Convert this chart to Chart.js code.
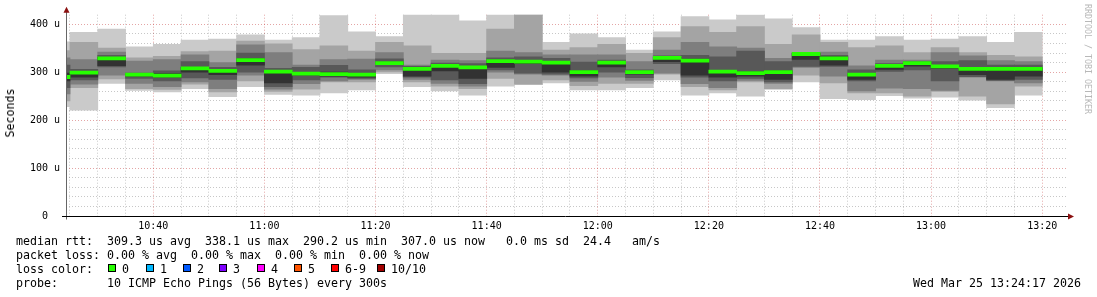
<!DOCTYPE html>
<html>
<head>
<meta charset="utf-8">
<script src="https://cdn.jsdelivr.net/npm/chart.js@4.4.1/dist/chart.umd.min.js"></script>
<style>
  html, body { margin: 0; padding: 0; background: #fff; }
  #wrap { position: relative; width: 1097px; height: 297px; overflow: hidden;
          font-family: "DejaVu Sans Mono", monospace; color: #000; }
  #graph { position: absolute; left: 0; top: 0; }
  .txt { position: absolute; font-size: 11.63px; line-height: 14px; white-space: pre; }
  .box { position: absolute; width: 8px; height: 8px; box-sizing: border-box; border: 1px solid #000; }
  #ytitle { position: absolute; left: 10px; top: 113px; font-size: 11.63px; white-space: pre;
            transform: translate(-50%, -50%) rotate(-90deg); }
  #mark { position: absolute; left: 1083px; top: 4px; font-size: 8.3px; color: #b8b8b8;
          writing-mode: vertical-rl; white-space: pre; }
</style>
</head>
<body>
<div id="wrap">
  <canvas id="graph" width="1097" height="297"></canvas>
  <div id="ytitle">Seconds</div>
  <div id="mark">RRDTOOL / TOBI OETIKER</div>
  <div class="txt" style="left:16px; top:234px;">median rtt:  309.3 us avg  338.1 us max  290.2 us min  307.0 us now   0.0 ms sd  24.4   am/s
packet loss: 0.00 % avg  0.00 % max  0.00 % min  0.00 % now
loss color:
probe:       10 ICMP Echo Pings (56 Bytes) every 300s</div>
  <div class="txt" style="right:16px; top:276px;">Wed Mar 25 13:24:17 2026</div>
  <div id="losslegend"></div>
</div>
<script>
// step start times (minutes after midnight), one step = 5 min
const stepStart = [];
for (let k = 0; k < 36; k++) stepStart.push(620 + 5 * k);

// sorted ping times per step, microseconds (ping1 = fastest ... ping10 = slowest)
const ping1  = [228,221,277,262,259,266,249,270,254,252,257,263,297,270,261,252,271,274,278,263,263,268,284,252,257,250,264,280,245,243,251,246,248,242,226,252];
const ping2  = [240,268,286,266,264,275,259,282,260,265,280,280,301,280,271,266,287,275,284,272,277,277,296,270,263,280,266,294,278,257,257,250,260,250,234,271];
const ping3  = [255,275,294,277,270,280,266,294,265,276,282,285,305,285,277,271,300,296,294,281,290,283,298,276,268,283,277,310,292,261,267,266,262,290,282,278];
const ping4  = [268,284,311,287,282,288,285,300,270,284,290,287,311,290,284,276,305,298,296,288,300,289,318,290,282,287,280,312,312,282,302,305,282,291,283,285];
const ping5  = [282,290,314,292,290,300,295,315,278,294,292,290,316,292,303,287,310,318,300,292,311,296,322,294,290,292,285,327,315,285,306,313,308,295,285,292];
const ping6  = [298,300,331,296,297,310,304,328,302,299,300,297,321,308,315,312,325,324,322,303,322,302,331,327,304,301,303,339,332,297,315,320,314,309,309,309];
const ping7  = [315,306,335,298,303,322,310,340,308,310,314,305,328,312,319,318,330,332,329,321,325,305,334,335,332,344,322,340,335,305,318,322,322,324,315,315];
const ping8  = [330,326,342,323,326,336,320,357,341,315,326,327,341,315,325,324,344,341,336,336,336,322,346,362,353,350,329,341,342,313,325,325,341,334,324,322];
const ping9  = [345,362,350,330,333,343,344,365,359,347,355,344,362,355,339,339,390,422,346,351,358,339,372,395,383,395,358,378,362,351,355,341,351,341,335,332];
const ping10 = [363,383,390,353,358,367,369,378,367,372,418,384,374,422,422,407,422,425,362,380,372,346,384,416,409,420,411,393,367,367,374,367,369,374,362,383];
const median = [290,299,329,295,293,308,303,325,301,297,296,295,319,307,313,310,323,322,320,300,320,300,330,324,301,298,300,338,329,295,313,319,312,307,307,307];

const pings = [ping1, ping2, ping3, ping4, ping5, ping6, ping7, ping8, ping9, ping10];

// y axis ticks (us) and time window
const yTicks = [0, 20, 40, 60, 80, 100, 120, 140, 160, 180, 200, 220, 240, 260, 280, 300, 320, 340, 360, 380, 400];
const xTicks = [];
for (let t = 625; t <= 800; t += 5) xTicks.push(t);
const windowEnd = 13 * 60 + 24 + 17 / 60;
const windowStart = windowEnd - 180;

const lossColors = [
  ['0', '#26ff00'], ['1', '#00b8ff'], ['2', '#0059ff'], ['3', '#7e00ff'],
  ['4', '#ff00fe'], ['5', '#ff5500'], ['6-9', '#ff0000'], ['10/10', '#a10000']
];

// smoke: band between ping i and ping (11-i), lighter outside, darker inside
const half = 5;
const datasets = [];
for (let i = 1; i <= half; i++) {
  const g = Math.floor(190 / half * (half - i)) + 50;
  const lo = pings[i - 1], hi = pings[10 - i];
  datasets.push({
    label: 'smoke' + i,
    data: stepStart.map((t, k) => ({ x: t + 2.5, y: [lo[k], hi[k]] })),
    backgroundColor: `rgb(${g},${g},${g})`,
    order: 10 - i
  });
}
// median line, ~3px thick, coloured by loss (all 0 %)
const medHalf = 3.1;
datasets.push({
  label: 'median',
  data: stepStart.map((t, k) => ({ x: t + 2.5, y: [median[k] - medHalf, median[k] + medHalf] })),
  backgroundColor: lossColors[0][1],
  order: 0
});
datasets.forEach(d => {
  d.grouped = false;
  d.barPercentage = 1;
  d.categoryPercentage = 1;
  d.borderWidth = 0;
  d.inflateAmount = 0.4;
  d.clip = 0;
});

const fmtTime = v => Math.floor(v / 60) + ':' + String(v % 60).padStart(2, '0');

const axisFont = { family: 'DejaVu Sans Mono', size: 10 };
const minorGrid = 'rgba(0,0,0,0.22)';
const majorGrid = 'rgba(190,40,40,0.42)';

const rrdAxes = {
  id: 'rrdAxes',
  afterDraw(chart) {
    const { ctx, chartArea: a } = chart;
    const yb = Math.round(a.bottom) + 0.5;
    const xl = Math.round(a.left) + 0.5;
    ctx.save();
    ctx.lineWidth = 1;
    ctx.strokeStyle = '#666';
    ctx.beginPath();
    ctx.moveTo(xl, yb + 3);
    ctx.lineTo(xl, a.top - 4);
    ctx.stroke();
    ctx.strokeStyle = '#000';
    ctx.beginPath();
    ctx.moveTo(a.left - 4, yb);
    ctx.lineTo(a.right + 3, yb);
    ctx.stroke();
    ctx.fillStyle = '#8b1010';
    ctx.beginPath();
    ctx.moveTo(xl - 3, a.top - 2);
    ctx.lineTo(xl + 3, a.top - 2);
    ctx.lineTo(xl, a.top - 8);
    ctx.closePath();
    ctx.fill();
    ctx.beginPath();
    ctx.moveTo(a.right + 2, yb - 3);
    ctx.lineTo(a.right + 2, yb + 3);
    ctx.lineTo(a.right + 8, yb);
    ctx.closePath();
    ctx.fill();
    ctx.restore();
  }
};

new Chart(document.getElementById('graph'), {
  type: 'bar',
  data: { datasets },
  options: {
    responsive: false,
    animation: false,
    events: [],
    layout: { padding: { left: 0, top: 14.7, right: 31, bottom: 61 } },
    plugins: { legend: { display: false }, tooltip: { enabled: false } },
    scales: {
      x: {
        type: 'linear',
        min: windowStart,
        max: windowEnd,
        offset: false,
        z: 1,
        afterBuildTicks: s => { s.ticks = xTicks.map(v => ({ value: v })); },
        afterFit: s => { s.height = 20; },
        grid: {
          offset: false,
          color: c => (c.tick && c.tick.value % 20 === 0) ? majorGrid : minorGrid,
          lineWidth: 1,
          drawTicks: false
        },
        border: { display: false, dash: [1, 2] },
        ticks: {
          padding: 4,
          maxRotation: 0,
          autoSkip: false,
          font: axisFont,
          color: '#000',
          callback: v => (v % 20 === 0 ? fmtTime(v) : '')
        }
      },
      y: {
        min: 0,
        max: 420,
        z: 1,
        afterBuildTicks: s => { s.ticks = yTicks.map(v => ({ value: v })); },
        afterFit: s => { s.width = 66; },
        grid: {
          color: c => (c.tick && c.tick.value % 100 === 0) ? majorGrid : minorGrid,
          lineWidth: 1,
          drawTicks: false
        },
        border: { display: false, dash: [1, 2] },
        ticks: {
          padding: 6,
          autoSkip: false,
          font: axisFont,
          color: '#000',
          callback: v => (v % 100 !== 0 ? '' : (v === 0 ? '0  ' : v + ' u'))
        }
      }
    }
  },
  plugins: [rrdAxes]
});

// loss colour legend row
const boxX = [108, 146, 183, 219, 257, 294, 331, 377];
const leg = document.getElementById('losslegend');
lossColors.forEach(([name, col], i) => {
  const b = document.createElement('div');
  b.className = 'box';
  b.style.left = boxX[i] + 'px';
  b.style.top = '264px';
  b.style.background = col;
  leg.appendChild(b);
  const t = document.createElement('div');
  t.className = 'txt';
  t.style.left = (boxX[i] + 14) + 'px';
  t.style.top = '262px';
  t.textContent = name;
  leg.appendChild(t);
});
</script>
</body>
</html>
